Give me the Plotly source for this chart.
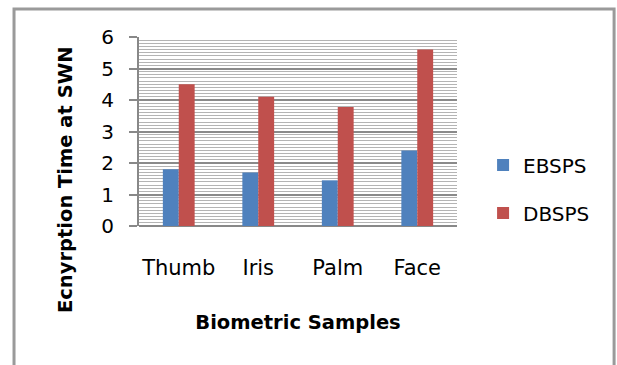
import plotly.graph_objects as go

categories = ["Thumb", "Iris", "Palm", "Face"]
ebsps = [1.8, 1.7, 1.45, 2.4]
dbsps = [4.5, 4.1, 3.78, 5.6]
y_ticks = [0, 1, 2, 3, 4, 5, 6]

FONT = "DejaVu Sans, sans-serif"

fig = go.Figure()
fig.add_trace(go.Bar(x=categories, y=ebsps, name="EBSPS", marker_color="#4F81BD",
                     marker_line_width=0, legendgroup="a"))
fig.add_trace(go.Bar(x=categories, y=dbsps, name="DBSPS", marker_color="#C0504D",
                     marker_line_width=0, legendgroup="b"))

fig.update_layout(
    width=617, height=365,
    margin=dict(l=139, r=160, t=37, b=139),
    paper_bgcolor="white", plot_bgcolor="white",
    barmode="group", bargap=0.6, bargroupgap=0,
    font=dict(family=FONT, color="black"),
    showlegend=True,
    legend=dict(x=1.082, y=0.196, xanchor="left", yanchor="middle",
                font=dict(size=20, family=FONT), tracegroupgap=19,
                itemwidth=30, bgcolor="rgba(0,0,0,0)"),
    xaxis=dict(
        showline=False, ticks="", tickfont=dict(size=21),
        ticklabelstandoff=27,
        title=dict(text="<b>Biometric Samples</b>", font=dict(size=19.5), standoff=36),
    ),
    yaxis=dict(
        range=[0, 6], tickvals=y_ticks, tickfont=dict(size=20),
        showline=True, linecolor="#888888", linewidth=2,
        ticks="outside", ticklen=8, tickcolor="#888888", tickwidth=2,
        ticklabelstandoff=11,
        showgrid=True, gridcolor="#8a8a8a", gridwidth=2,
        zeroline=True, zerolinecolor="#888888", zerolinewidth=2,
        minor=dict(dtick=0.1, showgrid=True, gridcolor="#b4b4b4", gridwidth=1),
    ),
    annotations=[dict(text="<b>Ecnyrption Time at SWN</b>", textangle=-90,
                      xref="paper", yref="paper", x=-0.2327, y=0.243,
                      xanchor="center", yanchor="middle", showarrow=False,
                      font=dict(size=19.5, family=FONT, color="black"))],
    shapes=[dict(type="rect", xref="paper", yref="paper",
                 x0=-0.393, x1=1.494, y0=-0.8, y1=1.148,
                 line=dict(color="#9a9a9a", width=3), layer="below")],
)

fig.write_html("out.html")
